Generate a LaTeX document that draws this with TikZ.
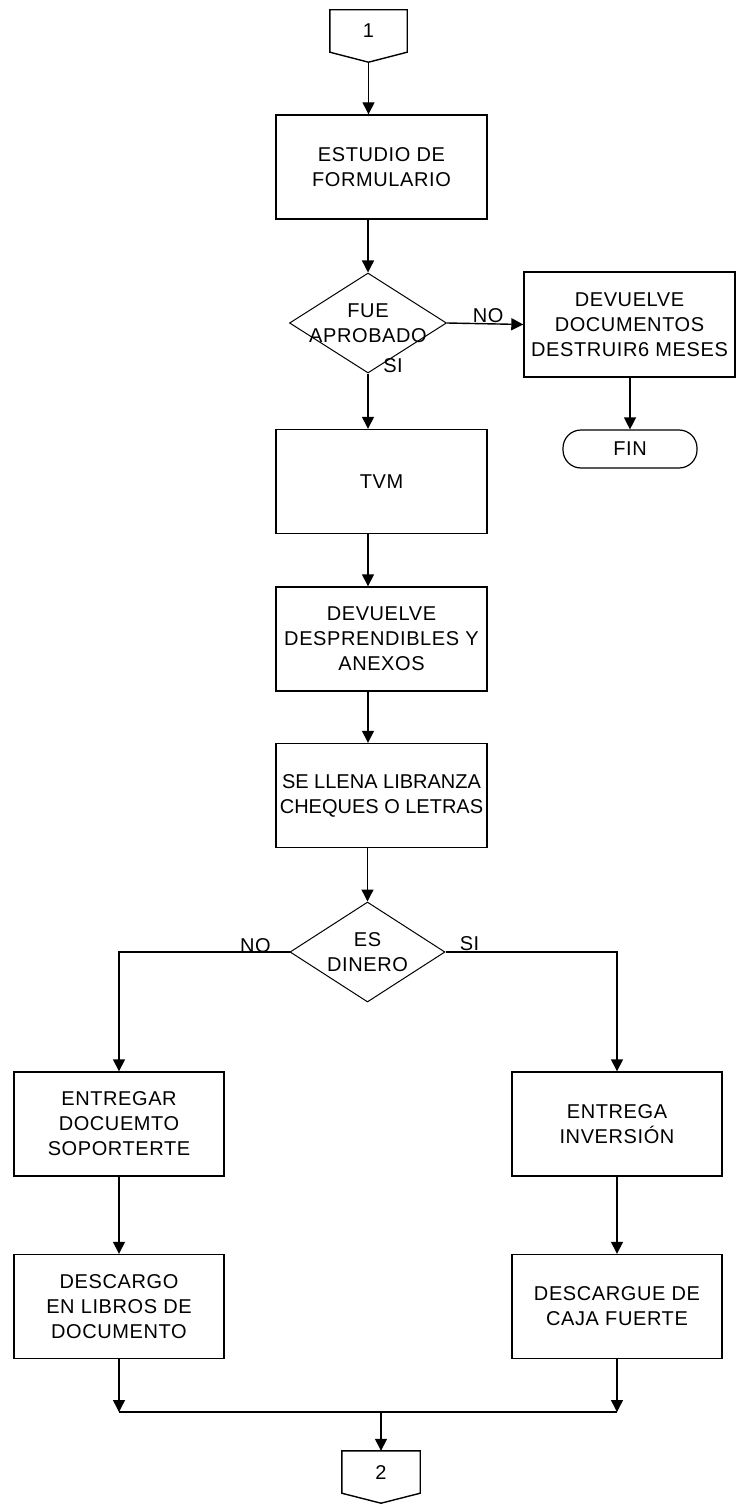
\documentclass[tikz,border=0pt]{standalone}
\usepackage{fontspec}
\setsansfont{Liberation Sans}[LetterSpace=3]
\usetikzlibrary{shapes.geometric,arrows.meta}

\begin{document}
\begin{tikzpicture}[x=1pt, y=-1pt, font=\sffamily\fontsize{20}{25}\selectfont ,
procBox/.style={rectangle, draw, line width=1.4pt, minimum width=211, minimum height=104, inner sep=0pt, align=center} ,
decisionBox/.style={diamond, draw, line width=1pt, minimum width=157, minimum height=100, inner sep=0pt} ,
endBox/.style={rectangle, draw, line width=1.2pt, rounded corners=18pt, minimum width=134, minimum height=38} ,
pageRef/.style={rectangle, minimum width=77, minimum height=42, inner sep=0pt} ,
pageLine/.style={line width=1.4pt} ,
flow/.style={line width=1.4pt, -{Triangle[length=12pt, width=12pt]}} ,
tag/.style={inner sep=0pt}
]
\useasboundingbox (0,0) rectangle (739,1506) ;

\node (p1) at (368.5,31) [pageRef] {1} ;
\draw[pageLine] (p1.north west) -- (p1.north east) -- (p1.south east) -- ([yshift=-10pt]p1.south) -- (p1.south west) -- cycle ;

\node (estudio) at (381.5,167) [procBox] {ESTUDIO DE\\FORMULARIO} ;
\node (q1) at (368,323) [decisionBox] {} ;
\node (q1text) at (q1) [align=center] {FUE\\APROBADO} ;
\node (devdoc) at (629.5,324.5) [procBox, minimum height=105] {DEVUELVE\\DOCUMENTOS\\DESTRUIR6 MESES} ;
\node (fin) at (630,449) [endBox] {FIN} ;
\node (si1) at (393,366) [tag] {SI} ;
\node (tvm) at (381.5,481.5) [procBox] {TVM} ;
\node (devdesp) at (381.5,639) [procBox] {DEVUELVE\\DESPRENDIBLES Y\\ANEXOS} ;
\node (llena) at (381.5,795.5) [procBox, font=\sffamily\fontsize{20}{25}\selectfont\addfontfeature{LetterSpace=0}] {SE LLENA LIBRANZA\\CHEQUES O LETRAS} ;
\node (q2) at (367.5,952) [decisionBox, minimum width=155] {} ;
\node (q2text) at (q2) [align=center] {ES\\DINERO} ;
\node (entregar) at (119,1124) [procBox, minimum width=210] {ENTREGAR\\DOCUEMTO\\SOPORTERTE} ;
\node (entrega) at (617,1124) [procBox, minimum width=210] {ENTREGA\\INVERSIÓN} ;
\node (descargo) at (119,1306.5) [procBox, minimum width=210] {DESCARGO\\EN LIBROS DE\\DOCUMENTO} ;
\node (descargue) at (617,1306.5) [procBox, minimum width=210] {DESCARGUE DE\\CAJA FUERTE} ;
\coordinate (merge) at (381,1412) ;
\node (p2) at (381,1472) [pageRef, minimum width=78] {2} ;
\draw[pageLine] (p2.north west) -- (p2.north east) -- (p2.south east) -- ([yshift=-10pt]p2.south) -- (p2.south west) -- cycle ;

\draw[flow] ([yshift=-10pt]p1.south) -- (p1 |- estudio.north) ;
\draw[flow] (q1 |- estudio.south) -- (q1.north) ;
\draw[flow] (q1.east) -- node[tag, pos=0.54, yshift=8pt] (no1) {NO} (devdoc.west) ;
\draw[flow] (fin |- devdoc.south) -- (fin.north) ;
\draw[flow] (q1.south) -- (q1 |- tvm.north) ;
\draw[flow] (q1 |- tvm.south) -- (q1 |- devdesp.north) ;
\draw[flow] (q1 |- devdesp.south) -- (q1 |- llena.north) ;
\draw[flow] (q2 |- llena.south) -- (q2.north) ;
\draw[flow] (q2.west) -| node[tag, pos=0.1, yshift=6pt] (no2) {NO} (entregar.north) ;
\draw[flow] (q2.east) -| node[tag, pos=0.07, yshift=8pt] (si2) {SI} (entrega.north) ;
\draw[flow] (entregar.south) -- (descargo.north) ;
\draw[flow] (entrega.south) -- (descargue.north) ;
\draw[flow] (descargo.south) -- (descargo.south |- merge) ;
\draw[flow] (descargue.south) -- (descargue.south |- merge) ;
\draw[pageLine] (descargo.south |- merge) -- (descargue.south |- merge) ;
\draw[flow] (merge) -- (p2.north) ;
\end{tikzpicture}
\end{document}
